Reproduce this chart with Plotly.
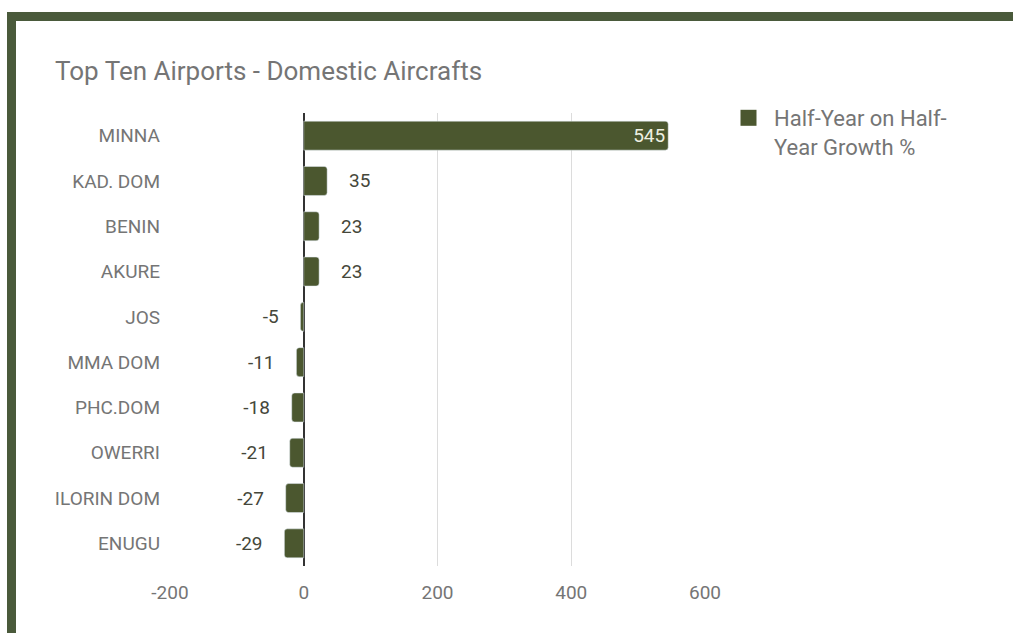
import plotly.graph_objects as go

airports = ["MINNA", "KAD. DOM", "BENIN", "AKURE", "JOS", "MMA DOM", "PHC.DOM", "OWERRI", "ILORIN DOM", "ENUGU"]
growth = [545, 35, 23, 23, -5, -11, -18, -21, -27, -29]
series_name = "Half-Year on Half-<br>Year Growth %"
x_ticks = [-200, 0, 200, 400, 600]

W, H = 1013, 633
L, R, T, B = 170, 308, 113, 67
pw, ph = W - L - R, H - T - B

def px(x):
    return (x - L) / pw

def py(y):
    return (H - B - y) / ph

BAR = "#4b572f"
BORDER = "#4a5a3b"
GREY = "#757575"
PAD = "\u00a0" * 4

inside = [v > 300 for v in growth]
labels = []
for v, i in zip(growth, inside):
    if i:
        labels.append(str(v))
    elif v >= 0:
        labels.append(PAD + str(v))
    else:
        labels.append(str(v) + PAD)

fig = go.Figure()
fig.add_trace(go.Bar(
    y=airports, x=growth, orientation="h", name=series_name,
    marker=dict(color=BAR, cornerradius=3),
    text=labels,
    textposition=["inside" if i else "outside" for i in inside],
    insidetextanchor="end",
    textfont=dict(family="Roboto", size=19, color=["#eef0e2" if i else "#45473a" for i in inside]),
    constraintext="none",
    cliponaxis=False,
    showlegend=False,
))
# legend entry (no data drawn)
fig.add_trace(go.Scatter(
    x=[None], y=[None], mode="markers", name=series_name,
    marker=dict(symbol="square", size=20, color=BAR),
    showlegend=True,
))

fig.update_layout(
    width=W, height=H,
    margin=dict(l=L, r=R, t=T, b=B),
    paper_bgcolor="white", plot_bgcolor="white",
    font=dict(family="Roboto", color=GREY),
    bargap=0.36,
    title=dict(text="Top Ten Airports - Domestic Aircrafts", x=55 / W, xanchor="left",
               y=1 - 71 / H, yanchor="middle", xref="container", yref="container",
               font=dict(family="Roboto", size=26, color=GREY)),
    xaxis=dict(range=[-200, 600], tickvals=x_ticks, ticktext=[str(v) for v in x_ticks],
               showgrid=True, gridcolor="#dcdcdc", gridwidth=1, zeroline=True,
               zerolinecolor="#333333", zerolinewidth=1.5, showline=False,
               tickfont=dict(size=19, color=GREY), ticklabelstandoff=13, fixedrange=True),
    yaxis=dict(autorange="reversed", tickfont=dict(size=19, color=GREY),
               showgrid=False, zeroline=False, ticklabelstandoff=9, showline=False),
    legend=dict(x=px(723), y=py(97), xanchor="left", yanchor="top", itemwidth=41,
                font=dict(size=22, color=GREY), valign="top", bgcolor="rgba(0,0,0,0)"),
    shapes=[
        dict(type="rect", xref="paper", yref="paper", x0=px(7), x1=px(1013), y0=py(21), y1=py(12),
             fillcolor=BORDER, line_width=0, layer="above"),
        dict(type="rect", xref="paper", yref="paper", x0=px(7), x1=px(16), y0=py(633), y1=py(12),
             fillcolor=BORDER, line_width=0, layer="above"),
    ],
)

fig.write_html("out.html", config={"displayModeBar": False},
               post_script="document.body.style.margin='0';document.body.style.overflow='hidden';")
